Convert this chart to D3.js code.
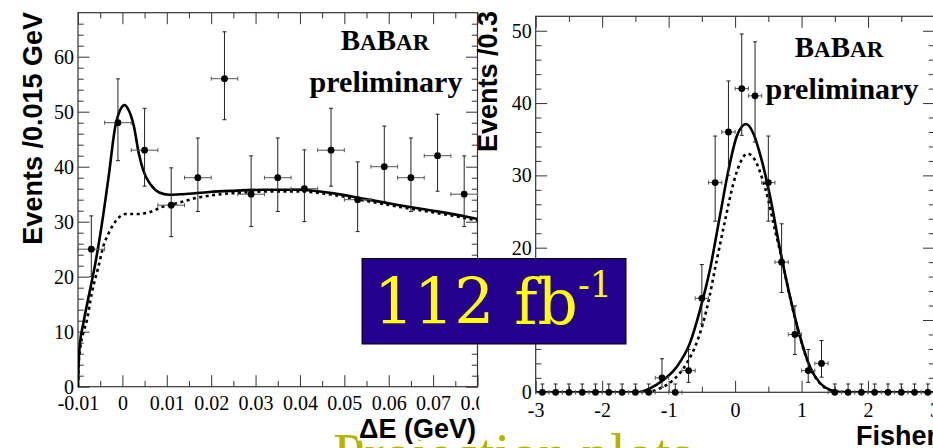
<!DOCTYPE html>
<html>
<head>
<meta charset="utf-8">
<script src="https://cdn.jsdelivr.net/npm/d3@7"></script>
<style>
  html, body { margin: 0; padding: 0; background: #fff; }
  svg { display: block; }
</style>
</head>
<body>
<svg id="chart" width="933" height="448"></svg>
<script>
// ---------- ΔE projection ----------
const deCenters = [-0.007, -0.001, 0.005, 0.011, 0.017, 0.023, 0.029, 0.035, 0.041, 0.047, 0.053, 0.059, 0.065, 0.071, 0.077];
const deCounts  = [25, 48, 43, 33, 38, 56, 35, 38, 36, 43, 34, 40, 38, 42, 35];
const deErrLo   = [4.95, 6.90, 6.54, 5.71, 6.14, 7.46, 5.89, 6.14, 5.98, 6.54, 5.80, 6.31, 6.14, 6.46, 5.89];
const deErrHi   = [6.06, 7.97, 7.62, 6.79, 7.22, 8.53, 6.97, 7.22, 7.06, 7.62, 6.88, 7.39, 7.22, 7.55, 6.97];
const deHalfBin = 0.003;
// total fit (solid) and background component (dotted)
const deTotal = [[-0.0100, 0.0], [-0.00985, 4.5], [-0.00955, 7.9], [-0.0088, 11.5], [-0.0073, 17.6], [-0.0061, 22.4],
  [-0.0046, 29.7], [-0.0031, 38.2], [-0.0016, 47.3], [-0.0005, 50.3], [0.0005, 51.2], [0.0014, 50.3],
  [0.0026, 47.3], [0.0037, 42.4], [0.0048, 39.1], [0.0064, 36.7], [0.0083, 35.3], [0.0105, 34.9],
  [0.0136, 35.0], [0.0196, 35.4], [0.0245, 35.6], [0.0320, 35.8], [0.0397, 35.8], [0.0473, 35.2],
  [0.0548, 34.1], [0.0624, 33.0], [0.0700, 32.0], [0.0776, 30.9], [0.0800, 30.5]];
const deBkg = [[-0.0100, 0.0], [-0.00985, 4.0], [-0.0095, 7.0], [-0.0088, 9.8], [-0.0080, 12.1], [-0.0069, 17.0],
  [-0.0054, 21.8], [-0.0043, 25.5], [-0.0031, 27.9], [-0.0016, 30.0], [0.0007, 31.4], [0.0037, 31.4],
  [0.0064, 31.8], [0.0090, 32.7], [0.0120, 33.3], [0.0166, 34.3], [0.0211, 34.9], [0.0272, 35.3],
  [0.0321, 35.5], [0.0397, 35.5], [0.0473, 34.9], [0.0548, 33.8], [0.0624, 32.7], [0.0700, 31.7],
  [0.0776, 30.6], [0.0800, 30.2]];
const deXTicks = [-0.01, 0, 0.01, 0.02, 0.03, 0.04, 0.05, 0.06, 0.07, 0.08];
const deXLabels = ["-0.01", "0", "0.01", "0.02", "0.03", "0.04", "0.05", "0.06", "0.07", "0.08"];
const deYTicks = [0, 10, 20, 30, 40, 50, 60];
const deYLabels = ["0", "10", "20", "30", "40", "50", "60"];

// ---------- Fisher projection ----------
const fCenters = [-2.9, -2.7, -2.5, -2.3, -2.1, -1.9, -1.7, -1.5, -1.3, -1.1, -0.9, -0.7, -0.5, -0.3, -0.1,
                  0.1, 0.3, 0.5, 0.7, 0.9, 1.1, 1.3, 1.5, 1.7, 1.9, 2.1, 2.3, 2.5, 2.7, 2.9];
const fCounts  = [0, 0, 0, 0, 0, 0, 0, 0, 0, 2, 0, 3, 13, 29, 36, 42, 41, 29, 18, 8, 3, 4, 0, 0, 0, 0, 0, 0, 0, 0];
const fErrLo   = [0, 0, 0, 0, 0, 0, 0, 0, 0, 1.29, 0, 1.63, 3.56, 5.33, 5.98, 6.46, 6.39, 5.33, 4.20, 2.77, 1.63, 1.91,
                  0, 0, 0, 0, 0, 0, 0, 0];
const fErrHi   = [1.15, 1.15, 1.15, 1.15, 1.15, 1.15, 1.15, 1.15, 1.15, 2.64, 1.15, 2.92, 4.67, 6.44, 7.06, 7.55, 7.47,
                  6.44, 5.30, 3.95, 2.92, 3.16, 1.15, 1.15, 1.15, 1.15, 1.15, 1.15, 1.15, 1.15];
const fHalfBin = 0.1;
const fTotal = [[-3.0, 0.0], [-1.60, 0.0], [-1.43, 0.05], [-1.28, 0.55], [-1.08, 1.7], [-0.88, 3.5], [-0.68, 6.8],
  [-0.53, 11.3], [-0.38, 16.9], [-0.23, 24.3], [-0.10, 30.7], [0.025, 35.4], [0.165, 37.1], [0.275, 35.8],
  [0.40, 32.1], [0.526, 27.1], [0.677, 19.7], [0.827, 13.2], [0.977, 7.7], [1.128, 3.5], [1.28, 1.25],
  [1.43, 0.32], [1.58, 0.05], [1.75, 0.0], [3.0, 0.0]];
const fBkg = [[-3.0, 0.0], [-1.50, 0.0], [-1.33, 0.05], [-1.13, 0.55], [-0.93, 1.7], [-0.73, 4.0], [-0.58, 6.8],
  [-0.43, 11.4], [-0.275, 18.3], [-0.15, 23.8], [-0.025, 28.9], [0.075, 31.7], [0.185, 33.0], [0.30, 32.1],
  [0.40, 29.8], [0.50, 26.6], [0.576, 23.4], [0.677, 19.5], [0.827, 13.1], [0.977, 7.6], [1.128, 3.4],
  [1.28, 1.2], [1.43, 0.3], [1.58, 0.05], [1.75, 0.0], [3.0, 0.0]];
const fXTicks = [-3, -2, -1, 0, 1, 2, 3];
const fXLabels = ["-3", "-2", "-1", "0", "1", "2", "3"];
const fYTicks = [0, 10, 20, 30, 40, 50];
const fYLabels = ["0", "10", "20", "30", "40", "50"];

const SERIF = "'Liberation Serif', 'Times New Roman', serif";
const SANS = "'Liberation Sans', Arial, Helvetica, sans-serif";
const AXIS_COL = "#333";

const svg = d3.select("#chart");
svg.append("rect").attr("width", 933).attr("height", 448).attr("fill", "#fff");

function drawPanel(root, cfg) {
  const x = d3.scaleLinear().domain(cfg.xDomain).range([cfg.left, cfg.right]);
  const y = d3.scaleLinear().domain(cfg.yDomain).range([cfg.bottom, cfg.top]);
  const g = root.append("g");

  const clipId = cfg.id + "-clip";
  g.append("clipPath").attr("id", clipId).append("rect")
    .attr("x", cfg.left).attr("y", cfg.top)
    .attr("width", cfg.right - cfg.left).attr("height", cfg.bottom - cfg.top);

  // ticks (all pointing inside the frame, mirrored on top and right)
  const styleAxis = sel => {
    sel.select(".domain").remove();
    sel.selectAll(".tick line").attr("stroke", AXIS_COL).attr("stroke-width", 1);
  };
  const noLabel = () => "";
  const majorLen = 11.5, minorLen = 5.7;

  const xb = g.append("g").attr("transform", `translate(0,${cfg.bottom})`)
    .call(d3.axisBottom(x).tickValues(cfg.xTicks).tickSize(-majorLen).tickPadding(cfg.xPad)
      .tickFormat((d, i) => cfg.xLabels[i]));
  styleAxis(xb);
  xb.selectAll(".tick text").attr("font-family", SERIF).attr("font-size", 20).attr("fill", "#000");
  g.append("g").attr("transform", `translate(0,${cfg.bottom})`)
    .call(d3.axisBottom(x).tickValues(cfg.xMinor).tickSize(-minorLen).tickFormat(noLabel)).call(styleAxis);
  g.append("g").attr("transform", `translate(0,${cfg.top})`)
    .call(d3.axisTop(x).tickValues(cfg.xTicks).tickSize(-majorLen).tickFormat(noLabel)).call(styleAxis);
  g.append("g").attr("transform", `translate(0,${cfg.top})`)
    .call(d3.axisTop(x).tickValues(cfg.xMinor).tickSize(-minorLen).tickFormat(noLabel)).call(styleAxis);

  const yl = g.append("g").attr("transform", `translate(${cfg.left},0)`)
    .call(d3.axisLeft(y).tickValues(cfg.yTicks).tickSize(-majorLen).tickPadding(4)
      .tickFormat((d, i) => cfg.yLabels[i]));
  styleAxis(yl);
  yl.selectAll(".tick text").attr("font-family", SERIF).attr("font-size", 20).attr("fill", "#000");
  g.append("g").attr("transform", `translate(${cfg.left},0)`)
    .call(d3.axisLeft(y).tickValues(cfg.yMinor).tickSize(-minorLen).tickFormat(noLabel)).call(styleAxis);
  g.append("g").attr("transform", `translate(${cfg.right},0)`)
    .call(d3.axisRight(y).tickValues(cfg.yTicks).tickSize(-majorLen).tickFormat(noLabel)).call(styleAxis);
  g.append("g").attr("transform", `translate(${cfg.right},0)`)
    .call(d3.axisRight(y).tickValues(cfg.yMinor).tickSize(-minorLen).tickFormat(noLabel)).call(styleAxis);

  // frame
  g.append("rect").attr("x", cfg.left).attr("y", cfg.top)
    .attr("width", cfg.right - cfg.left).attr("height", cfg.bottom - cfg.top)
    .attr("fill", "none").attr("stroke", AXIS_COL).attr("stroke-width", 1.2);

  // fit curves
  const line = d3.line().x(d => x(d[0])).y(d => y(d[1])).curve(d3.curveMonotoneX);
  const curves = g.append("g").attr("clip-path", `url(#${clipId})`);
  curves.append("path").attr("d", line(cfg.total)).attr("fill", "none")
    .attr("stroke", "#000").attr("stroke-width", 2.6);
  curves.append("path").attr("d", line(cfg.bkg)).attr("fill", "none")
    .attr("stroke", "#000").attr("stroke-width", 2.6).attr("stroke-dasharray", "3,3.5");

  // data points with error bars
  const pts = cfg.centers.map((c, i) => ({ c, n: cfg.counts[i], lo: cfg.errLo[i], hi: cfg.errHi[i] }));
  const eb = g.append("g").attr("stroke", "#222").attr("stroke-width", 1).attr("fill", "none");
  const cap = 2;
  pts.forEach(p => {
    const cx = x(p.c), cy = y(p.n);
    const x0 = x(p.c - cfg.halfBin), x1 = x(p.c + cfg.halfBin);
    const yTop = y(p.n + p.hi), yBot = y(p.n - p.lo);
    eb.append("line").attr("x1", x0).attr("x2", x1).attr("y1", cy).attr("y2", cy).attr("stroke", "#555");
    eb.append("line").attr("x1", x0).attr("x2", x0).attr("y1", cy - cap).attr("y2", cy + cap).attr("stroke", "#555");
    eb.append("line").attr("x1", x1).attr("x2", x1).attr("y1", cy - cap).attr("y2", cy + cap).attr("stroke", "#555");
    eb.append("line").attr("x1", cx).attr("x2", cx).attr("y1", yTop).attr("y2", yBot);
    eb.append("line").attr("x1", cx - cap).attr("x2", cx + cap).attr("y1", yTop).attr("y2", yTop);
    if (p.lo > 0) eb.append("line").attr("x1", cx - cap).attr("x2", cx + cap).attr("y1", yBot).attr("y2", yBot);
  });
  g.append("g").selectAll("circle").data(pts).join("circle")
    .attr("cx", d => x(d.c)).attr("cy", d => y(d.n)).attr("r", 3.4).attr("fill", "#000");

  // BaBar preliminary label
  const bb = g.append("text").attr("x", cfg.babar[0]).attr("y", cfg.babar[1])
    .attr("text-anchor", "middle").attr("font-family", SERIF).attr("font-weight", "bold").attr("fill", "#000");
  bb.append("tspan").attr("font-size", 29).text("B");
  bb.append("tspan").attr("font-size", 23).text("A");
  bb.append("tspan").attr("font-size", 29).text("B");
  bb.append("tspan").attr("font-size", 23).text("AR");
  g.append("text").attr("x", cfg.prelim[0]).attr("y", cfg.prelim[1]).attr("text-anchor", "middle")
    .attr("font-family", SERIF).attr("font-weight", "bold").attr("font-size", 30).text("preliminary");

  // axis titles
  g.append("text").attr("transform", `translate(${cfg.yTitlePos[0]},${cfg.yTitlePos[1]}) rotate(-90)`)
    .attr("text-anchor", "end").attr("font-family", SANS).attr("font-weight", "bold")
    .attr("font-size", 27).text(cfg.yTitle);
  return g;
}

// left panel: ΔE
drawPanel(svg, {
  id: "de", left: 78, right: 477.5, top: 12.7, bottom: 386.7,
  xDomain: [-0.01, 0.08], yDomain: [0, 68],
  xTicks: deXTicks, xLabels: deXLabels, xMinor: d3.range(-0.005, 0.08, 0.01), xPad: 9,
  yTicks: deYTicks, yLabels: deYLabels, yMinor: d3.range(2, 67, 2).filter(v => v % 10 !== 0),
  centers: deCenters, counts: deCounts, errLo: deErrLo, errHi: deErrHi, halfBin: deHalfBin,
  total: deTotal, bkg: deBkg,
  babar: [385, 50], prelim: [386, 92],
  yTitle: "Events /0.015 GeV", yTitlePos: [42, 12]
});

// the second panel sits on its own white sheet
svg.append("rect").attr("x", 479.5).attr("y", 0).attr("width", 454).attr("height", 448).attr("fill", "#fff");

// right panel: Fisher discriminant
drawPanel(svg, {
  id: "fi", left: 535.7, right: 934.5, top: 16.3, bottom: 392.3,
  xDomain: [-3, 3], yDomain: [0, 52],
  xTicks: fXTicks, xLabels: fXLabels, xMinor: d3.range(-2.5, 3, 1), xPad: 10.5,
  yTicks: fYTicks, yLabels: fYLabels, yMinor: d3.range(2, 52, 2).filter(v => v % 10 !== 0),
  centers: fCenters, counts: fCounts, errLo: fErrLo, errHi: fErrHi, halfBin: fHalfBin,
  total: fTotal, bkg: fBkg,
  babar: [839, 56.5], prelim: [842, 99],
  yTitle: "Events /0.3", yTitlePos: [497, 11]
});

// slide title along the bottom
svg.append("text").attr("x", 333).attr("y", 473).attr("font-family", SERIF).attr("font-size", 57)
  .attr("fill", "#b4b400").text("Projection plots");

// x-axis titles
svg.append("text").attr("x", 476).attr("y", 438).attr("text-anchor", "end")
  .attr("font-family", SANS).attr("font-weight", "bold").attr("font-size", 27)
  .attr("stroke", "#fff").attr("stroke-width", 5).attr("paint-order", "stroke")
  .text("ΔE (GeV)");
svg.append("text").attr("x", 937).attr("y", 445).attr("text-anchor", "end")
  .attr("font-family", SANS).attr("font-weight", "bold").attr("font-size", 27)
  .text("Fisher");

// luminosity box
const lum = svg.append("g");
lum.append("rect").attr("x", 362).attr("y", 258.5).attr("width", 264).attr("height", 85.5)
  .attr("fill", "#24008e").attr("stroke", "#000").attr("stroke-width", 1);
const lt = lum.append("text").attr("x", 374).attr("y", 324).attr("font-family", "'DejaVu Serif', serif")
  .attr("font-size", 63).attr("fill", "#ffff00");
lt.append("tspan").text("112 fb");
lt.append("tspan").attr("font-size", 35).attr("dy", -27).text("-1");
</script>
</body>
</html>
